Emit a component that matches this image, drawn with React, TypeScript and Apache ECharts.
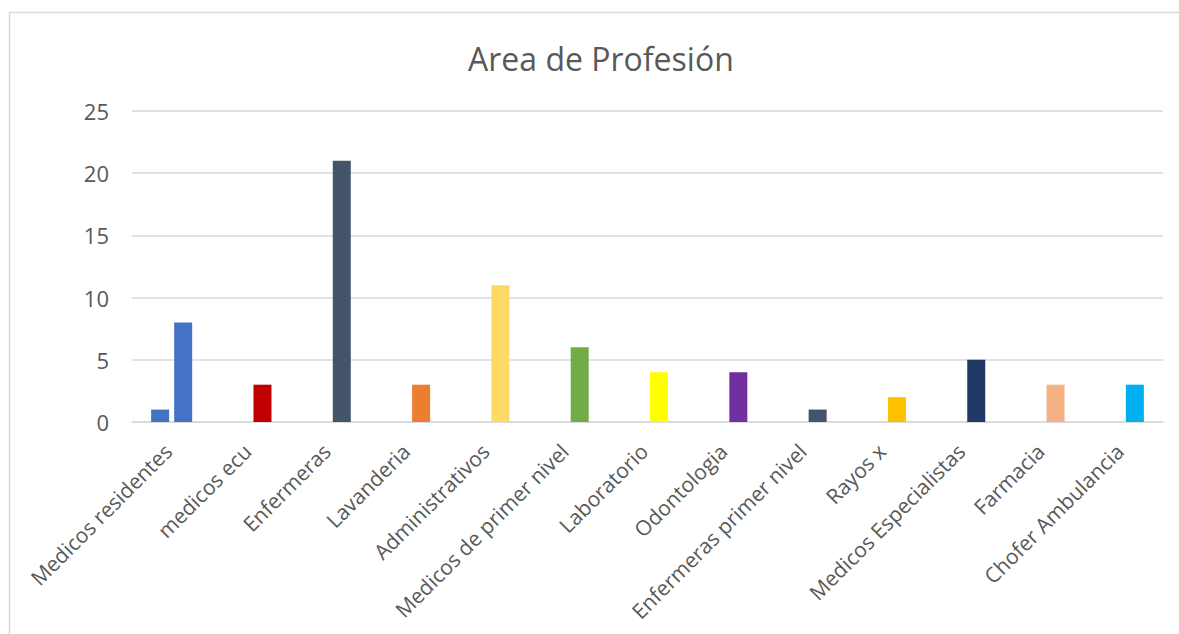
import React, { useEffect, useRef } from "react";
import * as echarts from "echarts";

const categories = [
  "Medicos residentes",
  "medicos ecu",
  "Enfermeras",
  "Lavanderia",
  "Administrativos",
  "Medicos de primer nivel",
  "Laboratorio",
  "Odontologia",
  "Enfermeras primer nivel",
  "Rayos x",
  "Medicos Especialistas",
  "Farmacia",
  "Chofer Ambulancia",
];

const seriesA: (number | string)[] = [1, "-", "-", "-", "-", "-", "-", "-", "-", "-", "-", "-", "-"];
const seriesB = [8, 3, 21, 3, 11, 6, 4, 4, 1, 2, 5, 3, 3];
const barColors = [
  "#4472C4",
  "#C00000",
  "#44546A",
  "#ED7D31",
  "#FFD966",
  "#70AD47",
  "#FFFF00",
  "#7030A0",
  "#44546A",
  "#FFC000",
  "#1F3864",
  "#F4B183",
  "#00B0F0",
];
const yTicks = [0, 5, 10, 15, 20, 25];

const FONT = "'Open Sans', sans-serif";
const TEXT = "#595959";
const GRID = "#D9D9D9";

export default function App() {
  const ref = useRef<HTMLDivElement>(null);
  useEffect(() => {
    document.body.style.margin = "0";
    if (!ref.current) return;
    const chart = echarts.init(ref.current, null, { renderer: "svg" });
    chart.setOption({
      animation: false,
      backgroundColor: "#ffffff",
      textStyle: { fontFamily: FONT },
      title: {
        text: "Area de Profesión",
        left: 463,
        top: 37,
        textStyle: { fontFamily: FONT, fontSize: 32, fontWeight: "normal", color: TEXT },
      },
      graphic: [
        {
          type: "rect",
          shape: { x: 9.5, y: 12.5, width: 1300, height: 800 },
          style: { fill: "none", stroke: GRID, lineWidth: 1.5 },
          silent: true,
        },
      ],
      grid: { left: 132, right: 16, top: 111, bottom: 212 },
      xAxis: {
        type: "category",
        data: categories,
        axisLine: { show: true, lineStyle: { color: GRID, width: 1.5 } },
        axisTick: { show: false },
        axisLabel: {
          interval: 0,
          rotate: 45,
          margin: 22,
          padding: [0, 5, 0, 0],
          fontSize: 21,
          color: TEXT,
          fontFamily: FONT,
        },
      },
      yAxis: {
        type: "value",
        min: yTicks[0],
        max: yTicks[yTicks.length - 1],
        interval: 5,
        axisLine: { show: false },
        axisTick: { show: false },
        splitLine: { lineStyle: { color: GRID, width: 1.5 } },
        axisLabel: { fontSize: 22, color: TEXT, margin: 23, fontFamily: FONT },
      },
      series: [
        {
          type: "bar",
          data: seriesA,
          barWidth: 18,
          barGap: "28%",
          itemStyle: { color: "#4472C4" },
        },
        {
          type: "bar",
          data: seriesB.map((v, i) => ({ value: v, itemStyle: { color: barColors[i] } })),
          barWidth: 18,
          barGap: "28%",
        },
      ],
    });
    return () => chart.dispose();
  }, []);
  return (
    <div
      ref={ref}
      style={{ position: "absolute", left: 0, top: 0, width: 1179, height: 634 }}
    />
  );
}
